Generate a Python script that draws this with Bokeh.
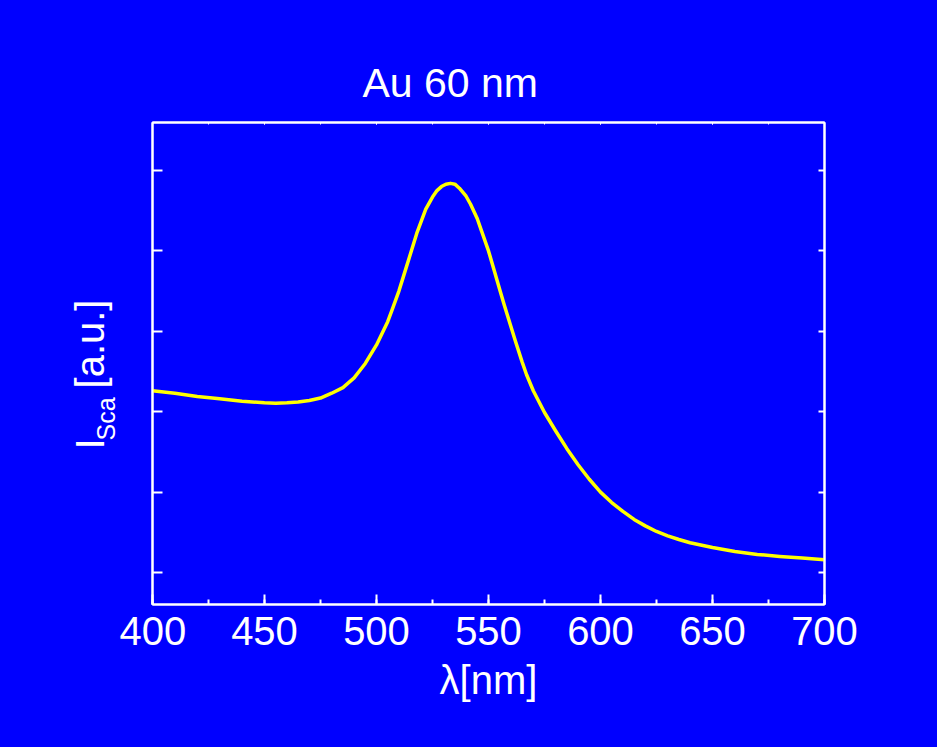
import math
from bokeh.plotting import figure
from bokeh.layouts import row
from bokeh.models import (LinearAxis, SingleIntervalTicker, FixedTicker, Title, Range1d,
                          CustomLabelingPolicy)
from bokeh.core.properties import value
from bokeh.embed import file_html
from bokeh.resources import INLINE

# ---- data ----
wavelength = [400, 410, 420, 430, 440, 450, 455, 460, 465, 470, 475, 480, 485, 490,
              495, 500, 505, 507, 510, 512, 515, 518, 520, 522, 525, 527, 529, 531, 533,
              535, 537, 540, 542, 545, 547, 550, 552, 555, 557, 560, 562, 565, 567, 570,
              575, 580, 585, 590, 595, 600, 605, 610, 615, 620, 625, 630, 635, 640, 650,
              660, 670, 680, 690, 700]
intensity = [2.26, 2.23, 2.19, 2.16, 2.13, 2.11, 2.105, 2.11, 2.12, 2.14, 2.17, 2.23, 2.30, 2.42,
             2.60, 2.83, 3.12, 3.27, 3.50, 3.68, 3.95, 4.22, 4.37, 4.52, 4.67, 4.75, 4.80, 4.83, 4.84,
             4.83, 4.78, 4.68, 4.58, 4.40, 4.24, 4.00, 3.81, 3.52, 3.33, 3.06, 2.88, 2.62, 2.46, 2.26,
             1.99, 1.76, 1.54, 1.34, 1.16, 1.00, 0.87, 0.76, 0.66, 0.58, 0.51, 0.455, 0.41, 0.37, 0.31,
             0.26, 0.225, 0.20, 0.18, 0.16]
y_ticks = [0, 1, 2, 3, 4, 5]
title_text = "Au 60 nm"
x_label = "λ[nm]"
y_label_main = "I"
y_label_sub = "Sca"
y_label_unit = "[a.u.]"

BLUE = "#0000FF"
WHITE = "#FFFFFF"
FONT = "Liberation Sans"
W, H = 937, 747
LEFT_W = 119

no_labels = CustomLabelingPolicy(code="return new Set()")
y_range = Range1d(-0.398, 5.597)

# ---- main plot ----
p = figure(width=W - LEFT_W, height=H, output_backend="svg", toolbar_location=None,
           x_range=Range1d(400, 700), y_range=y_range,
           min_border_left=152 - LEFT_W, min_border_right=113, min_border_top=122,
           min_border_bottom=143,
           background_fill_color=BLUE, border_fill_color=BLUE,
           outline_line_color=WHITE, outline_line_width=2)
p.xaxis.visible = False
p.yaxis.visible = False
p.grid.visible = False

p.line(wavelength, intensity, line_color="#FFFF00", line_width=3.5, line_join="round")

# bottom axis
xb = LinearAxis(ticker=SingleIntervalTicker(interval=50, num_minor_ticks=2))
xb.axis_line_color = WHITE
xb.axis_line_width = 2
xb.major_tick_line_color = WHITE
xb.major_tick_line_width = 2
xb.major_tick_in = 10
xb.major_tick_out = 0
xb.minor_tick_line_color = WHITE
xb.minor_tick_line_width = 2
xb.minor_tick_in = 5
xb.minor_tick_out = 0
xb.major_label_text_color = WHITE
xb.major_label_text_font = FONT
xb.major_label_text_font_size = "40px"
xb.major_label_standoff = 12
xb.axis_label = x_label
xb.axis_label_text_color = WHITE
xb.axis_label_text_font = FONT
xb.axis_label_text_font_size = "40px"
xb.axis_label_text_font_style = "normal"
xb.axis_label_standoff = 10
p.add_layout(xb, "below")

# top axis (tiny ticks, no labels)
xt = LinearAxis(ticker=SingleIntervalTicker(interval=50, num_minor_ticks=2),
                major_label_policy=no_labels)
xt.axis_line_color = WHITE
xt.axis_line_width = 2
xt.major_tick_line_color = WHITE
xt.major_tick_in = 2
xt.major_tick_out = 0
xt.minor_tick_line_color = WHITE
xt.minor_tick_in = 2
xt.minor_tick_out = 0
xt.major_label_standoff = 0
p.add_layout(xt, "above")

# left axis
yl = LinearAxis(ticker=FixedTicker(ticks=y_ticks), major_label_policy=no_labels)
yl.axis_line_color = WHITE
yl.axis_line_width = 2
yl.major_tick_line_color = WHITE
yl.major_tick_line_width = 2
yl.major_tick_in = 10
yl.major_tick_out = 0
yl.minor_tick_line_color = None
yl.major_label_standoff = 0
p.add_layout(yl, "left")

# right axis
yr = LinearAxis(ticker=FixedTicker(ticks=y_ticks), major_label_policy=no_labels)
yr.axis_line_color = WHITE
yr.axis_line_width = 2
yr.major_tick_line_color = WHITE
yr.major_tick_line_width = 2
yr.major_tick_in = 6
yr.major_tick_out = 0
yr.minor_tick_line_color = None
yr.major_label_standoff = 0
p.add_layout(yr, "right")

# title
t = Title(text=title_text, align="left", offset=210, text_color=WHITE, text_font=FONT,
          text_font_size="41px", text_font_style="normal", standoff=11)
p.add_layout(t, "above")

# ---- left strip carrying the rotated y label I_Sca [a.u.] (shares the y scale) ----
lab = figure(width=LEFT_W, height=H, output_backend="svg", toolbar_location=None,
             x_range=Range1d(0, LEFT_W), y_range=y_range,
             min_border=0, background_fill_alpha=0, border_fill_alpha=0,
             outline_line_color=None)
lab.axis.visible = False
lab.grid.visible = False
common = dict(angle=math.pi / 2, text_color=WHITE, text_font=value(FONT),
              text_align="left", text_baseline="alphabetic")
lab.text(x=[89], y=[1.530], text=[y_label_main], text_font_size="40px", **common)
lab.text(x=[105], y=[1.642], text=[y_label_sub], text_font_size="25px", **common)
lab.text(x=[89], y=[2.289], text=[y_label_unit], text_font_size="40px", **common)

layout = row(lab, p, spacing=0, styles={"background-color": BLUE})
open("out.html", "w").write(file_html(layout, INLINE))
